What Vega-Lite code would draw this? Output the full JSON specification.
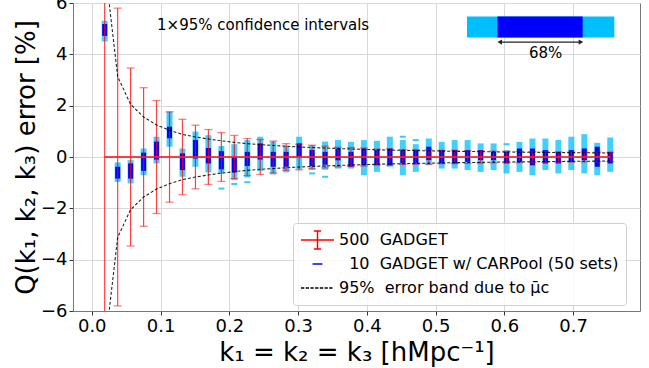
{
  "$schema": "https://vega.github.io/schema/vega-lite/v6.json",
  "width": 567,
  "height": 308,
  "autosize": {"type": "none"},
  "padding": {"left": 73, "top": 3, "right": 9, "bottom": 57},
  "background": "white",
  "config": {
    "font": "DejaVu Sans",
    "view": {"stroke": "#777", "strokeWidth": 1},
    "axis": {
      "labelFont": "DejaVu Sans", "titleFont": "DejaVu Sans",
      "labelColor": "#000", "titleColor": "#000",
      "labelFontSize": 18, "titleFontSize": 26, "titleFontWeight": "normal",
      "gridColor": "#d8d8d8", "gridWidth": 1, "tickColor": "#333", "tickSize": 4,
      "domainColor": "#777", "labelPadding": 2
    }
  },
  "datasets": {
    "main": [
      {"k": 0.0188, "m": 0, "rlo": -9, "rhi": 9, "lo95": 4.5, "hi95": 5.31, "lo68": 4.72, "hi68": 5.18, "blo": -7.5, "bhi": 7.5},
      {"k": 0.0377, "m": 0, "rlo": -5.8, "rhi": 5.8, "lo95": -0.97, "hi95": -0.21, "lo68": -0.84, "hi68": -0.38, "blo": -3.13, "bhi": 3.13},
      {"k": 0.0565, "m": 0, "rlo": -3.47, "rhi": 3.47, "lo95": -1.03, "hi95": -0.12, "lo68": -0.84, "hi68": -0.25, "blo": -2.05, "bhi": 2.05},
      {"k": 0.0754, "m": 0, "rlo": -2.7, "rhi": 2.7, "lo95": -0.71, "hi95": 0.33, "lo68": -0.54, "hi68": 0.17, "blo": -1.56, "bhi": 1.56},
      {"k": 0.0942, "m": 0, "rlo": -2.2, "rhi": 2.2, "lo95": -0.25, "hi95": 0.79, "lo68": -0.1, "hi68": 0.6, "blo": -1.25, "bhi": 1.25},
      {"k": 0.1131, "m": 0, "rlo": -1.76, "rhi": 1.76, "lo95": 0.4, "hi95": 1.77, "lo68": 0.73, "hi68": 1.18, "blo": -1.04, "bhi": 1.04},
      {"k": 0.1319, "m": 0, "rlo": -1.47, "rhi": 1.47, "lo95": -0.77, "hi95": 0.33, "lo68": -0.51, "hi68": 0.14, "blo": -0.88, "bhi": 0.88},
      {"k": 0.1508, "m": 0, "rlo": -1.24, "rhi": 1.24, "lo95": -0.38, "hi95": 0.99, "lo68": -0.06, "hi68": 0.66, "blo": -0.78, "bhi": 0.78},
      {"k": 0.1696, "m": 0, "rlo": -1.07, "rhi": 1.07, "lo95": -0.6, "hi95": 0.85, "lo68": -0.25, "hi68": 0.35, "blo": -0.7, "bhi": 0.7},
      {"k": 0.1885, "m": 0, "rlo": -0.95, "rhi": 0.95, "lo95": -0.64, "hi95": 0.43, "lo68": -0.48, "hi68": 0.23, "blo": -0.63, "bhi": 0.63},
      {"k": 0.2073, "m": 0, "rlo": -0.84, "rhi": 0.84, "lo95": -0.9, "hi95": 0.5, "lo68": -0.6, "hi68": 0.0, "blo": -0.57, "bhi": 0.57},
      {"k": 0.2262, "m": 0, "rlo": -0.72, "rhi": 0.72, "lo95": -0.8, "hi95": 0.66, "lo68": -0.35, "hi68": 0.2, "blo": -0.52, "bhi": 0.52},
      {"k": 0.245, "m": 0, "rlo": -0.68, "rhi": 0.68, "lo95": -0.55, "hi95": 0.79, "lo68": -0.1, "hi68": 0.53, "blo": -0.48, "bhi": 0.48},
      {"k": 0.2639, "m": 0, "rlo": -0.62, "rhi": 0.62, "lo95": -0.68, "hi95": 0.6, "lo68": -0.38, "hi68": 0.2, "blo": -0.45, "bhi": 0.45},
      {"k": 0.2827, "m": 0, "rlo": -0.52, "rhi": 0.52, "lo95": -0.6, "hi95": 0.43, "lo68": -0.38, "hi68": 0.2, "blo": -0.42, "bhi": 0.42},
      {"k": 0.3016, "m": 0, "rlo": -0.5, "rhi": 0.5, "lo95": -0.48, "hi95": 0.79, "lo68": 0.0, "hi68": 0.53, "blo": -0.39, "bhi": 0.39},
      {"k": 0.3204, "m": 0, "rlo": -0.46, "rhi": 0.46, "lo95": -0.5, "hi95": 0.46, "lo68": -0.35, "hi68": 0.27, "blo": -0.37, "bhi": 0.37},
      {"k": 0.3393, "m": 0, "rlo": -0.42, "rhi": 0.42, "lo95": -0.5, "hi95": 0.6, "lo68": -0.3, "hi68": 0.2, "blo": -0.35, "bhi": 0.35},
      {"k": 0.3581, "m": 0, "rlo": -0.38, "rhi": 0.38, "lo95": -0.45, "hi95": 0.66, "lo68": -0.13, "hi68": 0.33, "blo": -0.33, "bhi": 0.33},
      {"k": 0.377, "m": 0, "rlo": -0.37, "rhi": 0.37, "lo95": -0.45, "hi95": 0.59, "lo68": -0.38, "hi68": 0.2, "blo": -0.31, "bhi": 0.31},
      {"k": 0.3958, "m": 0, "rlo": -0.35, "rhi": 0.35, "lo95": -0.71, "hi95": 0.66, "lo68": -0.32, "hi68": 0.33, "blo": -0.3, "bhi": 0.3},
      {"k": 0.4147, "m": 0, "rlo": -0.31, "rhi": 0.31, "lo95": -0.58, "hi95": 0.63, "lo68": -0.32, "hi68": 0.27, "blo": -0.28, "bhi": 0.28},
      {"k": 0.4335, "m": 0, "rlo": -0.32, "rhi": 0.32, "lo95": -0.38, "hi95": 0.79, "lo68": -0.32, "hi68": 0.33, "blo": -0.27, "bhi": 0.27},
      {"k": 0.4524, "m": 0, "rlo": -0.29, "rhi": 0.29, "lo95": -0.71, "hi95": 0.66, "lo68": -0.25, "hi68": 0.27, "blo": -0.26, "bhi": 0.26},
      {"k": 0.4712, "m": 0, "rlo": -0.29, "rhi": 0.29, "lo95": -0.58, "hi95": 0.5, "lo68": -0.25, "hi68": 0.27, "blo": -0.25, "bhi": 0.25},
      {"k": 0.4901, "m": 0, "rlo": -0.28, "rhi": 0.28, "lo95": -0.32, "hi95": 0.72, "lo68": -0.12, "hi68": 0.4, "blo": -0.24, "bhi": 0.24},
      {"k": 0.5089, "m": 0, "rlo": -0.26, "rhi": 0.26, "lo95": -0.45, "hi95": 0.59, "lo68": -0.25, "hi68": 0.27, "blo": -0.23, "bhi": 0.23},
      {"k": 0.5278, "m": 0, "rlo": -0.26, "rhi": 0.26, "lo95": -0.45, "hi95": 0.66, "lo68": -0.25, "hi68": 0.27, "blo": -0.22, "bhi": 0.22},
      {"k": 0.5466, "m": 0, "rlo": -0.25, "rhi": 0.25, "lo95": -0.51, "hi95": 0.66, "lo68": -0.19, "hi68": 0.27, "blo": -0.215, "bhi": 0.215},
      {"k": 0.5655, "m": 0, "rlo": -0.24, "rhi": 0.24, "lo95": -0.58, "hi95": 0.53, "lo68": -0.12, "hi68": 0.27, "blo": -0.21, "bhi": 0.21},
      {"k": 0.5843, "m": 0, "rlo": -0.23, "rhi": 0.23, "lo95": -0.51, "hi95": 0.53, "lo68": -0.12, "hi68": 0.2, "blo": -0.2, "bhi": 0.2},
      {"k": 0.6032, "m": 0, "rlo": -0.22, "rhi": 0.22, "lo95": -0.64, "hi95": 0.27, "lo68": -0.25, "hi68": 0.2, "blo": -0.195, "bhi": 0.195},
      {"k": 0.622, "m": 0, "rlo": -0.22, "rhi": 0.22, "lo95": -0.58, "hi95": 0.59, "lo68": -0.19, "hi68": 0.33, "blo": -0.19, "bhi": 0.19},
      {"k": 0.6409, "m": 0, "rlo": -0.21, "rhi": 0.21, "lo95": -0.71, "hi95": 0.72, "lo68": -0.32, "hi68": 0.33, "blo": -0.185, "bhi": 0.185},
      {"k": 0.6597, "m": 0, "rlo": -0.21, "rhi": 0.21, "lo95": -0.51, "hi95": 0.72, "lo68": -0.25, "hi68": 0.27, "blo": -0.18, "bhi": 0.18},
      {"k": 0.6786, "m": 0, "rlo": -0.2, "rhi": 0.2, "lo95": -0.64, "hi95": 0.66, "lo68": -0.25, "hi68": 0.2, "blo": -0.175, "bhi": 0.175},
      {"k": 0.6974, "m": 0, "rlo": -0.2, "rhi": 0.2, "lo95": -0.51, "hi95": 0.79, "lo68": -0.19, "hi68": 0.27, "blo": -0.17, "bhi": 0.17},
      {"k": 0.7163, "m": 0, "rlo": -0.19, "rhi": 0.19, "lo95": -0.64, "hi95": 0.89, "lo68": -0.12, "hi68": 0.33, "blo": -0.165, "bhi": 0.165},
      {"k": 0.7351, "m": 0, "rlo": -0.19, "rhi": 0.19, "lo95": -0.71, "hi95": 0.55, "lo68": -0.38, "hi68": 0.4, "blo": -0.16, "bhi": 0.16},
      {"k": 0.754, "m": 0, "rlo": -0.18, "rhi": 0.18, "lo95": -0.58, "hi95": 0.76, "lo68": -0.25, "hi68": 0.2, "blo": -0.157, "bhi": 0.157}
    ],
    "outliers": [
      {"k": 0.1885, "v": -1.23},
      {"k": 0.2073, "v": -1.05},
      {"k": 0.2262, "v": -0.98},
      {"k": 0.3204, "v": -0.64},
      {"k": 0.3393, "v": -0.77},
      {"k": 0.4524, "v": 0.79},
      {"k": 0.4712, "v": 0.66},
      {"k": 0.6032, "v": 0.5}
    ],
    "note": [{"k": 0.095, "v": 5.15, "label": "1×95% confidence intervals"}],
    "box95": [{"a": 0.5457, "b": 0.76, "lo": 4.656, "hi": 5.477}],
    "box68": [{"a": 0.59, "b": 0.7139, "lo": 4.656, "hi": 5.477}],
    "arrow": [{"a": 0.5933, "b": 0.7114, "v": 4.477}],
    "pct": [{"k": 0.66, "v": 4.05, "label": "68%"}],
    "legend": [
      {"series": "500\u00a0\u00a0GADGET"},
      {"series": "\u200b\u00a0\u00a010\u00a0\u00a0GADGET w/ CARPool (50 sets)"},
      {"series": "95%\u00a0\u00a0error band due to \u03bc\u0304c"}
    ]
  },
  "layer": [
    {
      "data": {"name": "main"},
      "mark": {"type": "bar", "size": 6, "color": "#00BFFF", "opacity": 0.75},
      "encoding": {
        "x": {"field": "k", "type": "quantitative", "scale": {"domain": [-0.02, 0.79], "nice": false, "zero": false},
              "axis": {"values": [0, 0.1, 0.2, 0.3, 0.4, 0.5, 0.6, 0.7], "format": ".1f", "grid": true, "title": "k₁ = k₂ = k₃ [hMpc⁻¹]", "titlePadding": 4}},
        "y": {"field": "lo95", "type": "quantitative", "scale": {"domain": [-6, 6], "nice": false, "zero": false},
              "axis": {"values": [-6, -4, -2, 0, 2, 4, 6], "format": "d", "grid": true, "title": "Q(k₁, k₂, k₃) error [%]", "titlePadding": 1}},
        "y2": {"field": "hi95"}
      }
    },
    {
      "data": {"name": "main"},
      "mark": {"type": "bar", "size": 5, "color": "#0000FF"},
      "encoding": {
        "x": {"field": "k", "type": "quantitative"},
        "y": {"field": "lo68", "type": "quantitative"},
        "y2": {"field": "hi68"}
      }
    },
    {
      "data": {"name": "outliers"},
      "mark": {"type": "tick", "orient": "horizontal", "size": 6, "thickness": 2, "color": "#00BFFF", "opacity": 0.8},
      "encoding": {
        "x": {"field": "k", "type": "quantitative"},
        "y": {"field": "v", "type": "quantitative"}
      }
    },
    {
      "data": {"name": "main"},
      "mark": {"type": "rule", "color": "#ff0000", "strokeWidth": 1.2, "opacity": 0.75, "clip": true},
      "encoding": {
        "x": {"field": "k", "type": "quantitative"},
        "y": {"field": "rlo", "type": "quantitative"},
        "y2": {"field": "rhi"}
      }
    },
    {
      "data": {"name": "main"},
      "mark": {"type": "tick", "orient": "horizontal", "size": 8, "thickness": 1.3, "color": "#ff0000", "opacity": 0.5, "clip": true},
      "encoding": {
        "x": {"field": "k", "type": "quantitative"},
        "y": {"field": "rhi", "type": "quantitative"}
      }
    },
    {
      "data": {"name": "main"},
      "mark": {"type": "tick", "orient": "horizontal", "size": 8, "thickness": 1.3, "color": "#ff0000", "opacity": 0.5, "clip": true},
      "encoding": {
        "x": {"field": "k", "type": "quantitative"},
        "y": {"field": "rlo", "type": "quantitative"}
      }
    },
    {
      "data": {"name": "main"},
      "mark": {"type": "line", "color": "#ff2020", "strokeWidth": 1.8, "opacity": 0.85},
      "encoding": {
        "x": {"field": "k", "type": "quantitative"},
        "y": {"field": "m", "type": "quantitative"}
      }
    },
    {
      "data": {"name": "main"},
      "mark": {"type": "line", "color": "#000", "strokeWidth": 1.1, "strokeDash": [3, 2], "opacity": 0.85, "clip": true},
      "encoding": {
        "x": {"field": "k", "type": "quantitative"},
        "y": {"field": "bhi", "type": "quantitative"}
      }
    },
    {
      "data": {"name": "main"},
      "mark": {"type": "line", "color": "#000", "strokeWidth": 1.1, "strokeDash": [3, 2], "opacity": 0.85, "clip": true},
      "encoding": {
        "x": {"field": "k", "type": "quantitative"},
        "y": {"field": "blo", "type": "quantitative"}
      }
    },
    {
      "data": {"name": "note"},
      "mark": {"type": "text", "align": "left", "baseline": "middle", "fontSize": 15, "font": "DejaVu Sans", "color": "#000"},
      "encoding": {
        "x": {"field": "k", "type": "quantitative"},
        "y": {"field": "v", "type": "quantitative"},
        "text": {"field": "label"}
      }
    },
    {
      "data": {"name": "box95"},
      "mark": {"type": "rect", "color": "#00BFFF"},
      "encoding": {
        "x": {"field": "a", "type": "quantitative"},
        "x2": {"field": "b"},
        "y": {"field": "lo", "type": "quantitative"},
        "y2": {"field": "hi"}
      }
    },
    {
      "data": {"name": "box68"},
      "mark": {"type": "rect", "color": "#0000FF"},
      "encoding": {
        "x": {"field": "a", "type": "quantitative"},
        "x2": {"field": "b"},
        "y": {"field": "lo", "type": "quantitative"},
        "y2": {"field": "hi"}
      }
    },
    {
      "data": {"name": "arrow"},
      "mark": {"type": "rule", "color": "#222", "strokeWidth": 1.3},
      "encoding": {
        "x": {"field": "a", "type": "quantitative"},
        "x2": {"field": "b"},
        "y": {"field": "v", "type": "quantitative"}
      }
    },
    {
      "data": {"name": "arrow"},
      "mark": {"type": "point", "shape": "triangle-left", "filled": true, "color": "#222", "size": 28, "opacity": 1},
      "encoding": {
        "x": {"field": "a", "type": "quantitative"},
        "y": {"field": "v", "type": "quantitative"}
      }
    },
    {
      "data": {"name": "arrow"},
      "mark": {"type": "point", "shape": "triangle-right", "filled": true, "color": "#222", "size": 28, "opacity": 1},
      "encoding": {
        "x": {"field": "b", "type": "quantitative"},
        "y": {"field": "v", "type": "quantitative"}
      }
    },
    {
      "data": {"name": "pct"},
      "mark": {"type": "text", "align": "center", "baseline": "middle", "fontSize": 15, "font": "DejaVu Sans", "color": "#000"},
      "encoding": {
        "x": {"field": "k", "type": "quantitative"},
        "y": {"field": "v", "type": "quantitative"},
        "text": {"field": "label"}
      }
    },
    {
      "data": {"name": "legend"},
      "mark": {"type": "point", "filled": false, "opacity": 0},
      "encoding": {
        "color": {
          "field": "series", "type": "nominal",
          "scale": {"domain": ["500\u00a0\u00a0GADGET", "\u200b\u00a0\u00a010\u00a0\u00a0GADGET w/ CARPool (50 sets)", "95%\u00a0\u00a0error band due to \u03bc\u0304c"], "range": ["#ff0000", "#0000ff", "#000000"]},
          "legend": {
            "orient": "none", "legendX": 220, "legendY": 220, "title": null,
            "labelFont": "DejaVu Sans", "labelFontSize": 16, "labelColor": "#000", "labelOffset": 4, "labelLimit": 0,
            "symbolSize": 1089, "symbolStrokeWidth": 1.5, "symbolOffset": 0,
            "padding": 7, "rowPadding": 4, "strokeColor": "#d0d0d0", "fillColor": "rgba(255,255,255,0.85)", "cornerRadius": 3,
            "clipHeight": 20, "symbolOpacity": 1,
            "encode": {"symbols": {"update": {"opacity": {"value": 1}}}}
          }
        },
        "shape": {
          "field": "series", "type": "nominal",
          "scale": {"domain": ["500\u00a0\u00a0GADGET", "\u200b\u00a0\u00a010\u00a0\u00a0GADGET w/ CARPool (50 sets)", "95%\u00a0\u00a0error band due to \u03bc\u0304c"],
                    "range": ["M-1,0H1M0,-0.55V0.55M-0.22,-0.55H0.22M-0.22,0.55H0.22", "M-0.3,0H0.3", "M-1,0H-0.8M-0.715,0H-0.515M-0.43,0H-0.23M-0.145,0H0.055M0.14,0H0.34M0.425,0H0.625M0.71,0H0.91"]}
        }
      }
    }
  ]
}
